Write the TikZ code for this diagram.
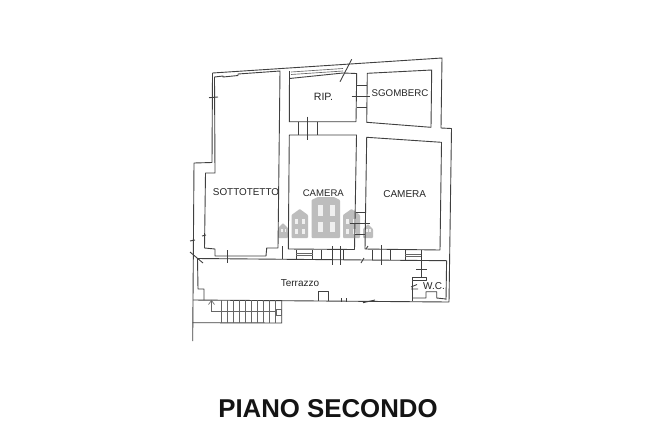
\documentclass[tikz,border=0pt]{standalone}
\usepackage{fontspec}
\setmainfont{Liberation Sans}
\definecolor{wallc}{gray}{0.25}
\definecolor{housec}{gray}{0.74}
\tikzset{
 wall/.style={draw=wallc,line width=0.9pt,line join=round},
 thin wall/.style={draw=wallc!80,line width=0.65pt},
 label/.style={text=black!85,inner sep=0pt,font=\fontsize{#1}{#1}\selectfont},
 house/.style={fill=housec,draw=none,rounded corners=0.8pt},
 pane/.style={fill=gray!12,draw=none}
}
\newcommand{\housepic}[5]{% x1 x2 ytop yshoulder ybottom
 \fill[house] (#1,#5) -- (#1,#4) -- ({(#1+#2)/2},#3) -- (#2,#4) -- (#2,#5) -- cycle;
}
\begin{document}
\begin{tikzpicture}[x=1pt,y=-1pt]
\useasboundingbox (0,0) rectangle (650,429);
\fill[white] (0,0) rectangle (650,429);
% watermark
\housepic{278}{288}{223}{228}{238}
\housepic{291.5}{308}{209}{215}{238}
\fill[house] (311.5,238) -- (311.5,200) -- (318,197) -- (334,197) -- (340,200) -- (340,238) -- cycle;
\housepic{343}{360}{209}{215}{238}
\housepic{363}{373}{224}{229}{238}
\foreach \x in {318,330}{
 \fill[pane] (\x,205) rectangle (\x+5,216);
 \fill[pane] (\x,222) rectangle (\x+5,232);}
\foreach \x in {295,302,346,353}{
 \fill[pane] (\x,219) rectangle (\x+2.5,224);
 \fill[pane] (\x,229) rectangle (\x+2.5,234);}
\foreach \x in {281,284.5,366,369}{
 \fill[pane] (\x,229) rectangle (\x+1.5,232);}
% outer shell
\draw[wall] (212.5,73) -- (442,58) -- (441,128) -- (451.5,128.5) -- (449,302) -- (193,300);
\draw[wall] (212.5,73) -- (212,162.5) -- (194,163) -- (192.7,341);
% sottotetto
\draw[wall] (214.5,77) -- (223,76) -- (223,77) -- (238,75.5) -- (238,74) -- (280,71) -- (278,248) -- (266.7,248) -- (266,256) -- (215,256) -- (215,249) -- (204.5,248) -- (205.5,173) -- (215,173) -- cycle;
% top double strip
\draw[thin wall] (291,72) -- (343,68.5);
\draw[thin wall] (291,74.5) -- (343,71);
\draw[wall] (289.5,71) -- (289.3,121.7) -- (356,121.7) -- (356.7,73.5) -- (343,73) -- (289.5,78.5);
\draw[wall] (340,81.7) -- (351.7,59.3);
% RIP door right
\draw[wall] (356.7,85) -- (366.7,85) (356.7,107.3) -- (366.7,107.3);
\draw[wall] (351.7,96.7) -- (370,96.7);
% sgomberc
\draw[wall] (367.3,73.3) -- (431.7,70) -- (431,127.3) -- (366.7,122.3) -- cycle;
% door RIP camera
\draw[wall] (298.3,121.7) -- (298.3,134.5) (317.5,121.7) -- (317.5,134.5);
\draw[wall] (307.7,116.7) -- (307.7,140);
% camera left
\draw[wall] (289.3,135) -- (356.5,135) -- (354.5,249.5) -- (288.3,249) -- cycle;
% camera right
\draw[wall] (366.7,137.3) -- (441.5,142.3) -- (440,250) -- (365,249) -- cycle;
% door between cameras
\draw[wall] (355.7,212.3) -- (365.7,212.3) (355.3,234.3) -- (365.3,234.3);
\draw[wall] (350,223.3) -- (370,223.3);
% terrace
\draw[wall] (197,258.5) -- (446.6,260.7) -- (446,300);
\draw[wall] (197.5,258.5) -- (198,289) -- (204,289) -- (204,300);
\draw[wall] (190,252) -- (203,263);
\draw[wall] (190,241) -- (195,240) (202,236) -- (206,235) (209,97.7) -- (218,97);
\draw[wall] (227.7,250) -- (227.7,263);
\draw[wall] (282.3,246) -- (282.3,259);
\draw[wall] (296,250) -- (296,259) (312.5,250) -- (312.5,259);
\draw[thin wall] (296,253.5) -- (312.5,253.5) (296,255.5) -- (312.5,255.5);
\draw[wall] (321.7,249.5) -- (321.7,259.5) (343.3,249.5) -- (343.3,259.5);
\draw[wall] (332.5,246) -- (332.5,265) (340,246) -- (340,265);
\draw[wall] (372.3,250) -- (372.3,260) (390,250) -- (390,260);
\draw[wall] (381,245) -- (381,265);
\draw[wall] (405.3,250) -- (405.3,260) (421,250) -- (421,260);
\draw[thin wall] (405.3,254) -- (421,254) (405.3,256.5) -- (421,256.5);
\draw[wall] (361,263) -- (364,258) (366,249) -- (368,246);
% small box and terrace bottom ticks
\draw[wall] (318.3,300.7) -- (318.3,291) -- (328.3,291) -- (328.3,300.7);
\draw[wall] (341.7,298) -- (341.7,302) (346,298) -- (346,302);
\draw[wall] (363,302.7) -- (375,300);
% w.c.
\draw[wall] (421,251.7) -- (421,277);
\draw[wall] (416,269) -- (427,269);
\draw[wall] (412.7,277.5) rectangle (426,280.7);
\draw[wall] (412.7,280.7) -- (412.7,301);
\draw[wall] (411,287) -- (417,284.5) (411,289) -- (418,289);
\draw[wall] (412.7,298) -- (426,298) -- (426,291.7) -- (436.7,291.7) -- (436.7,298) -- (446,299);
% stairs
\draw[wall] (192.7,322.7) -- (281.7,323) -- (281.7,300);
\foreach \x in {221,227.3,233.3,239.3,245.3,251.3,257.7,263.7,269.3,275.7}{
 \draw[thin wall] (\x,300) -- (\x,323);}
\draw[thin wall] (211.5,301) -- (211.5,311.7) -- (276,311.7);
\draw[thin wall] (208.5,304.5) -- (211.5,300.5) -- (214.5,304.5);
\draw[thin wall] (276,309) rectangle (281,315);
% text
\node[label=9.9] (sot) at (246,191.7) {SOTTOTETTO};
\node[label=9.6] (cama) at (323.3,193.3) {CAMERA};
\node[label=10] (camb) at (404.7,194.5) {CAMERA};
\node[label=10] (ter) at (300,282.7) {Terrazzo};
\node[label=10.6] (rip) at (323.5,97) {RIP.};
\node[label=9.7] (sgo) at (400,93) {SGOMBERC};
\node[label=10] (wc) at (434,286) {W.C.};
\node[label=25,text=black!92,font={\fontsize{25.8}{26}\selectfont\bfseries}] (title) at (328,409) {PIANO SECONDO};
\end{tikzpicture}
\end{document}
